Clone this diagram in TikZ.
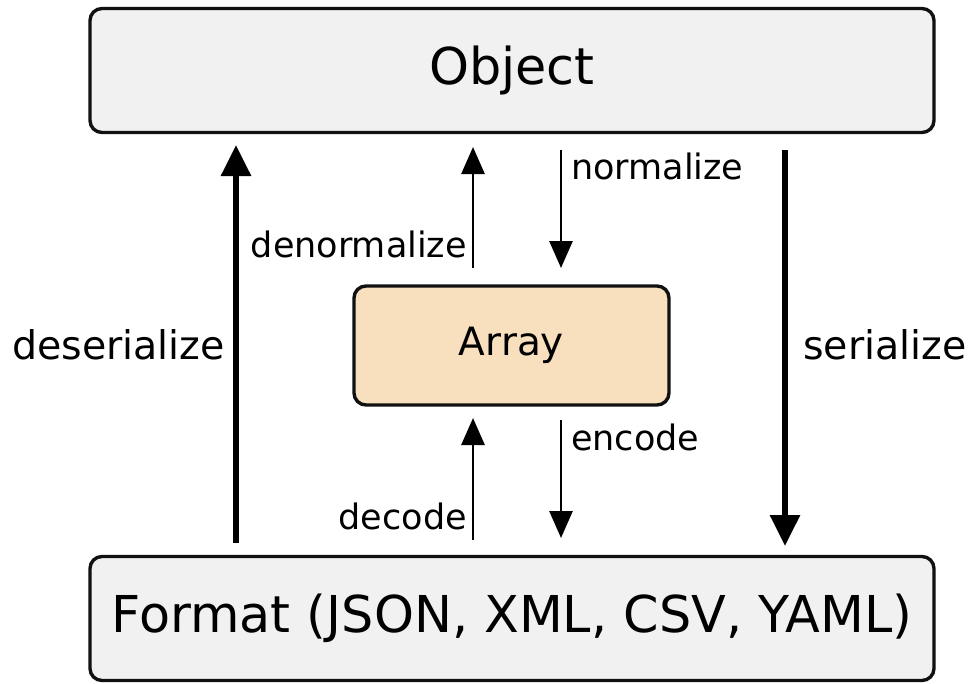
\documentclass[tikz,border=0pt]{standalone}
\usepackage{fontspec}
\setmainfont{DejaVu Sans}
\usetikzlibrary{arrows.meta}
\definecolor{boxgray}{HTML}{F1F1F1}
\definecolor{arrayfill}{HTML}{F8DFBE}
\definecolor{edge}{HTML}{111111}
\begin{document}
\begin{tikzpicture}[x=1pt,y=-1pt,
  bigbox/.style={draw=edge,line width=3.4pt,fill=boxgray,rounded corners=12pt,minimum width=844pt,minimum height=124pt,inner sep=0pt,font=\fontsize{50.8}{60}\selectfont},
  midbox/.style={draw=edge,line width=3.4pt,fill=arrayfill,rounded corners=12pt,minimum width=315pt,minimum height=119pt,inner sep=0pt,font=\fontsize{39}{46}\selectfont},
  thickarrow/.style={line width=6pt,-{Triangle[length=31pt,width=29pt]}},
  thinarrow/.style={line width=2.8pt,-{Triangle[length=27pt,width=23pt]}},
  biglabel/.style={font=\fontsize{39.5}{46}\selectfont,inner sep=0pt},
  smalllabel/.style={font=\fontsize{35}{42}\selectfont,inner sep=0pt}]
\useasboundingbox (0,0) rectangle (972,683);
\node[bigbox] (obj) at (512,70.5) {Object};
\node[bigbox] (fmt) at (512,618.5) {Format (JSON, XML, CSV, YAML)};
\node[midbox] (arr) at (511.5,345.5) {Array};
% coordinates for arrow ends
\coordinate (desA) at (236,543);
\coordinate (desB) at (236,145);
\coordinate (serA) at (785,150);
\coordinate (serB) at (785,546);
\coordinate (denA) at (473,268);
\coordinate (denB) at (473,147);
\coordinate (norA) at (561,150);
\coordinate (norB) at (561,268);
\coordinate (decA) at (473,540);
\coordinate (decB) at (473,418);
\coordinate (encA) at (561,420);
\coordinate (encB) at (561,538);
\draw[thickarrow] (desA) -- (desB);
\draw[thickarrow] (serA) -- (serB);
\draw[thinarrow] (denA) -- (denB);
\draw[thinarrow] (norA) -- (norB);
\draw[thinarrow] (decA) -- (decB);
\draw[thinarrow] (encA) -- (encB);
\node[biglabel,anchor=east] (ldes) at (225,345) {deserialize};
\node[biglabel,anchor=west] (lser) at (803,345) {serialize};
\node[smalllabel,anchor=east] (lden) at (467,244) {denormalize};
\node[smalllabel,anchor=west] (lnor) at (571,166) {normalize};
\node[smalllabel,anchor=east] (ldec) at (467,516) {decode};
\node[smalllabel,anchor=west] (lenc) at (571,437) {encode};
\end{tikzpicture}
\end{document}
